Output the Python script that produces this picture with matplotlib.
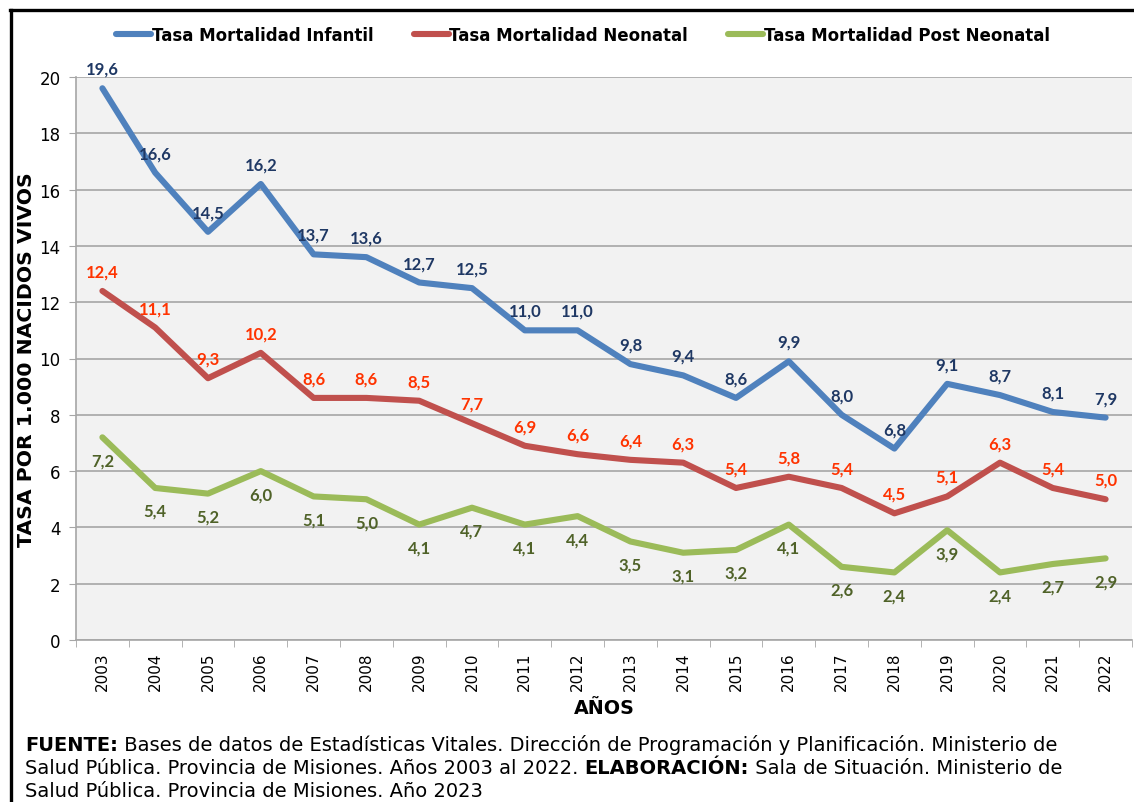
import matplotlib
matplotlib.use("Agg")
import matplotlib.pyplot as plt
from matplotlib.lines import Line2D
import numpy as np

years = [str(y) for y in range(2003, 2023)]
infantil = [19.6, 16.6, 14.5, 16.2, 13.7, 13.6, 12.7, 12.5, 11.0, 11.0,
            9.8, 9.4, 8.6, 9.9, 8.0, 6.8, 9.1, 8.7, 8.1, 7.9]
neonatal = [12.4, 11.1, 9.3, 10.2, 8.6, 8.6, 8.5, 7.7, 6.9, 6.6,
            6.4, 6.3, 5.4, 5.8, 5.4, 4.5, 5.1, 6.3, 5.4, 5.0]
post_neonatal = [7.2, 5.4, 5.2, 6.0, 5.1, 5.0, 4.1, 4.7, 4.1, 4.4,
                 3.5, 3.1, 3.2, 4.1, 2.6, 2.4, 3.9, 2.4, 2.7, 2.9]
series_names = ["Tasa Mortalidad Infantil", "Tasa Mortalidad Neonatal",
                "Tasa Mortalidad Post Neonatal"]
yticks = [0, 2, 4, 6, 8, 10, 12, 14, 16, 18, 20]

line_colors = ["#4F81BD", "#C0504D", "#9BBB59"]
label_colors = ["#1F3864", "#FF3300", "#4F6228"]

W, H = 1134, 803
fig = plt.figure(figsize=(W / 100, H / 100), dpi=100)
fig.patch.set_facecolor("white")
AX_H = 641 - 78
AX_W = 1132 - 76
ax = fig.add_axes([76 / W, 1 - 641 / H, AX_W / W, AX_H / H])
ax.set_facecolor("#F2F2F2")

x = np.arange(len(years))
for vals, lc, tc, name, off in zip([infantil, neonatal, post_neonatal],
                                    line_colors, label_colors, series_names,
                                    [14, 14, -16.5]):
    ax.plot(x, vals, color=lc, lw=4.4, label=name, solid_capstyle="round",
            solid_joinstyle="round", zorder=3)
    for xi, v in zip(x, vals):
        ax.annotate(f"{v:.1f}".replace(".", ","), (xi, v), xytext=(0, off),
                    textcoords="offset points", ha="center", va="center",
                    fontsize=12, fontweight="bold", family="Lato",
                    color=tc, zorder=4)

ax.set_xlim(-0.5, len(years) - 0.5)
ax.set_ylim(0, 20)
ax.set_yticks(yticks)
ax.set_yticklabels([str(t) for t in yticks], fontsize=12)
ax.yaxis.grid(True, color="#A6A6A6", lw=1.2)
ax.set_axisbelow(True)
ax.set_xticks(x)
ax.set_xticklabels(years, rotation=90, fontsize=11)
ax.set_xticks(np.arange(-0.5, len(years)), minor=True)
ax.tick_params(axis="x", which="major", length=0, pad=8)
ax.tick_params(axis="x", which="minor", length=5, color="#A6A6A6")
ax.tick_params(axis="y", length=5, color="#A6A6A6", pad=6)
for s in ["top", "right"]:
    ax.spines[s].set_visible(False)
for s in ["left", "bottom"]:
    ax.spines[s].set_color("#A6A6A6")
    ax.spines[s].set_linewidth(1.2)

ax.set_ylabel("TASA POR 1.000 NACIDOS VIVOS", fontsize=14.7, fontweight="bold")
ax.yaxis.set_label_coords(-(76 - 36) / AX_W, 0.5)
ax.set_xlabel("AÑOS", fontsize=13.8, fontweight="bold")
ax.xaxis.set_label_coords(0.5, -(699 - 641) / AX_H)

fig.legend(loc="center", bbox_to_anchor=(583 / W, 1 - 36 / H), ncol=3,
           frameon=False, prop={"weight": "bold", "size": 12},
           handlelength=2.1, handletextpad=0.05, columnspacing=2.4)

# Footer with mixed bold / regular text
fs = 14
lines = [
    [("FUENTE:", True), (" Bases de datos de Estadísticas Vitales. Dirección de Programación y Planificación. Ministerio de", False)],
    [("Salud Pública. Provincia de Misiones. Años 2003 al 2022. ", False), ("ELABORACIÓN:", True), (" Sala de Situación. Ministerio de", False)],
    [("Salud Pública. Provincia de Misiones. Año 2023", False)],
]
ys = [751, 774, 797]
for parts, yy in zip(lines, ys):
    last_artist = None
    for txt, bold in parts:
        wt = "bold" if bold else "normal"
        if last_artist is None:
            last_artist = fig.text(25 / W, 1 - yy / H, txt, fontsize=fs,
                                   fontweight=wt, ha="left", va="baseline")
        else:
            last_artist = ax.annotate(txt, xy=(1, 0), xycoords=last_artist,
                                      va="bottom", ha="left", fontsize=fs,
                                      fontweight=wt, annotation_clip=False)

# Outer frame (top and left border)
fig.add_artist(Line2D([11 / W, 11 / W], [-0.01, 1 - 11 / H], color="black",
                      lw=2.4, transform=fig.transFigure))
fig.add_artist(Line2D([10 / W, 1.01], [1 - 11 / H, 1 - 11 / H], color="black",
                      lw=2.4, transform=fig.transFigure))

fig.savefig("out.png", dpi=100)
